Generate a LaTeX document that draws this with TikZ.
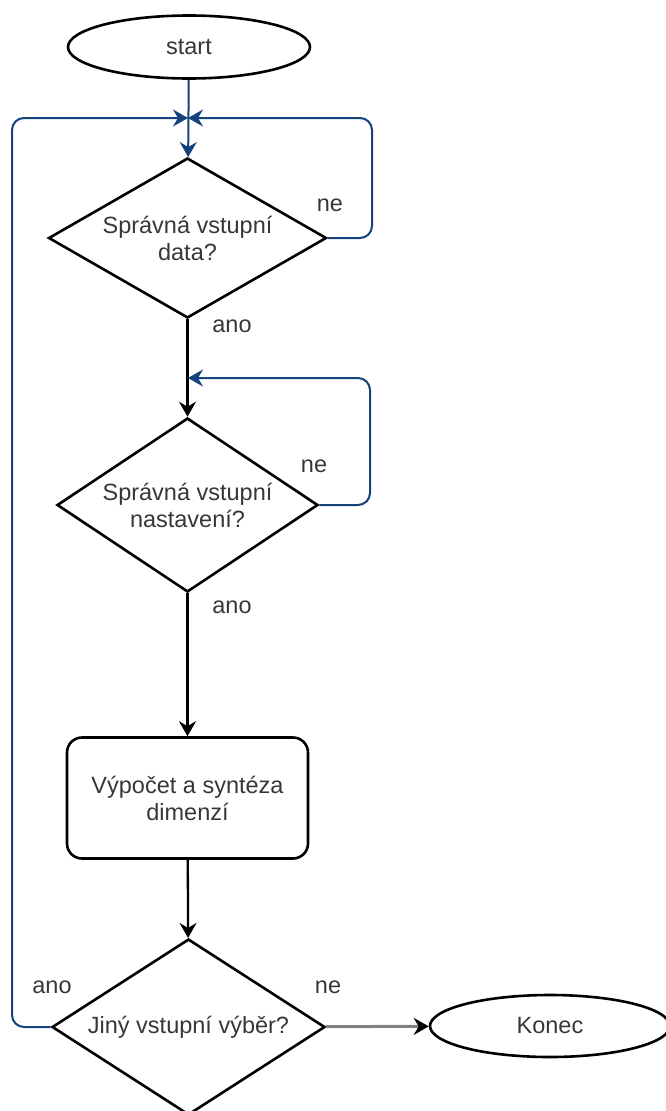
\documentclass[tikz,border=0pt]{standalone}
\usepackage{fontspec}
\setmainfont{Liberation Sans}
\usetikzlibrary{shapes.geometric, arrows.meta}
\definecolor{loopblue}{RGB}{20,66,124}
\definecolor{txtgray}{RGB}{55,55,55}
\begin{document}
\begin{tikzpicture}[
        x=1pt, y=-1pt,
        every node/.style={font=\fontsize{23.5}{27}\selectfont, text=txtgray},
        term/.style={draw, ellipse, line width=2.6pt, inner sep=0pt},
        decision/.style={draw, diamond, aspect=1.6, line width=2.6pt, inner sep=0pt, align=center},
        process/.style={draw, rectangle, rounded corners=15pt, line width=2.6pt, align=center,
            minimum width=241pt, minimum height=121pt},
        flow/.style={line width=2.3pt, -{Stealth[length=15pt, width=17pt, inset=5pt]}},
        back/.style={line width=2pt, draw=loopblue, rounded corners=12pt,
            -{Stealth[length=15pt, width=17pt, inset=5pt, color=loopblue]}},
        lab/.style={inner sep=0pt}
    ]

        \useasboundingbox (0,0) rectangle (665,1111);

        % Terminals
        \node[term, minimum width=242pt, minimum height=63pt] (start) at (189,47) {start};
        \node[term, minimum width=240pt, minimum height=62pt] (konec) at (550,1026) {Konec};

        % Decisions
        \node[decision, minimum width=278pt, minimum height=160pt] (data) at (187.5,238) {Správná vstupní\\data?};
        \node[decision, minimum width=261pt, minimum height=174pt] (nast) at (187.5,505) {Správná vstupní\\nastavení?};
        \node[decision, minimum width=273pt, minimum height=176pt] (jiny) at (188.5,1027) {Jiný vstupní výběr?};

        % Process
        \node[process] (vypocet) at (187.5,798) {Výpočet a syntéza\\dimenzí};

        % Loop points
        \coordinate (m1) at (188,118);
        \coordinate (r1) at (372,118);
        \coordinate (l1) at (12,118);
        \coordinate (m2) at (188,378);
        \coordinate (r2) at (370,378);

        % Main flow
        \draw[back, rounded corners=0pt] (start) -- (data);
        \draw[flow] (data) -- (nast);
        \draw[flow] (nast) -- (vypocet);
        \draw[flow] (vypocet) -- (jiny);
        \draw[flow, line width=3pt, draw=gray, -{Stealth[length=15pt, width=17pt, inset=5pt, color=black]}] (jiny) -- (konec);

        % Back loops
        \draw[back] (data.east) -| (r1) -- (m1);
        \draw[back] (nast.east) -| (r2) -- (m2);
        \draw[back] (jiny.west) -| (l1) -- (m1);

        % Branch labels
        \node[lab] (ne1) at (330,205) {ne};
        \node[lab] (ano1) at (232,326) {ano};
        \node[lab] (ne2) at (314,466) {ne};
        \node[lab] (ano2) at (232,607) {ano};
        \node[lab] (ano3) at (52,987) {ano};
        \node[lab] (ne3) at (328,987) {ne};

    \end{tikzpicture}
\end{document}
